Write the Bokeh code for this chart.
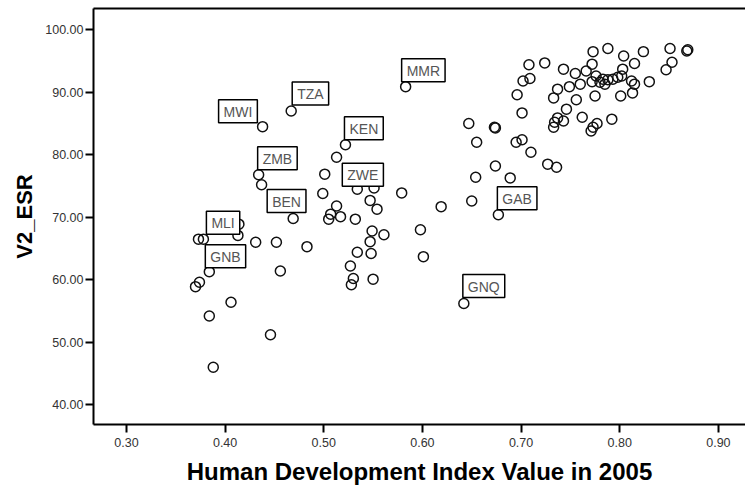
from bokeh.plotting import figure
from bokeh.models import Range1d, FixedTicker, NumeralTickFormatter, LinearAxis, ColumnDataSource
from bokeh.embed import file_html
from bokeh.resources import INLINE
from bokeh.core.properties import value

# Human Development Index value in 2005 (x) and V2_ESR (y)
hdi = [0.373, 0.378, 0.414, 0.413, 0.431, 0.452, 0.483, 0.384, 0.374, 0.370,
       0.406, 0.384, 0.446, 0.456, 0.388, 0.438, 0.467, 0.434, 0.437, 0.469,
       0.583, 0.522, 0.513, 0.501, 0.534, 0.551, 0.499, 0.579, 0.547, 0.554,
       0.513, 0.507, 0.505, 0.517, 0.532, 0.619, 0.598, 0.601, 0.549, 0.561,
       0.547, 0.534, 0.548, 0.527, 0.530, 0.528, 0.550, 0.642,
       0.773, 0.788, 0.804, 0.824, 0.851, 0.868, 0.869, 0.708, 0.724, 0.743,
       0.755, 0.766, 0.772, 0.815, 0.803, 0.853, 0.847, 0.702, 0.709, 0.737,
       0.749, 0.760, 0.776, 0.783, 0.788, 0.793, 0.798, 0.802, 0.772, 0.780,
       0.785, 0.812, 0.815, 0.830, 0.696, 0.733, 0.756, 0.775, 0.801, 0.813,
       0.701, 0.746, 0.737, 0.734, 0.733, 0.743, 0.762, 0.777, 0.773, 0.771,
       0.792, 0.673, 0.674, 0.647, 0.655, 0.695, 0.701, 0.710, 0.727, 0.736,
       0.674, 0.654, 0.689, 0.650, 0.677]
esr = [66.5, 66.5, 68.9, 67.1, 66.0, 66.0, 65.3, 61.3, 59.6, 58.9,
       56.4, 54.2, 51.2, 61.4, 46.0, 84.5, 87.0, 76.8, 75.2, 69.8,
       90.9, 81.6, 79.6, 76.9, 74.5, 74.7, 73.8, 73.9, 72.7, 71.3,
       71.8, 70.5, 69.7, 70.1, 69.7, 71.7, 68.0, 63.7, 67.8, 67.2,
       66.1, 64.4, 64.2, 62.2, 60.2, 59.2, 60.1, 56.2,
       96.5, 97.0, 95.8, 96.5, 97.0, 96.6, 96.8, 94.4, 94.7, 93.7,
       93.0, 93.4, 94.5, 94.6, 93.7, 94.8, 93.6, 91.8, 92.2, 90.5,
       90.9, 91.3, 92.6, 92.1, 92.0, 92.1, 92.4, 92.6, 91.7, 91.6,
       91.3, 91.8, 91.3, 91.7, 89.6, 89.1, 88.8, 89.4, 89.4, 89.9,
       86.7, 87.3, 85.9, 85.2, 84.4, 85.4, 86.0, 85.0, 84.4, 83.8,
       85.7, 84.4, 84.3, 85.0, 82.0, 82.0, 82.4, 80.4, 78.5, 78.0,
       78.2, 76.4, 76.3, 72.6, 70.4]
codes = ["", "MLI", "", "", "", "", "", "GNB", "", "",
         "", "", "", "", "", "MWI", "TZA", "ZMB", "", "BEN",
         "MMR", "KEN", "", "", "ZWE", "", "", "", "", "",
         "", "", "", "", "", "", "", "", "", "",
         "", "", "", "", "", "", "", "GNQ",
         "", "", "", "", "", "", "", "", "", "",
         "", "", "", "", "", "", "", "", "", "",
         "", "", "", "", "", "", "", "", "", "",
         "", "", "", "", "", "", "", "", "", "",
         "", "", "", "", "", "", "", "", "", "",
         "", "", "", "", "", "", "", "", "", "",
         "", "", "", "", "GAB"]

x_ticks = [0.30, 0.40, 0.50, 0.60, 0.70, 0.80, 0.90]
y_ticks = [40, 50, 60, 70, 80, 90, 100]

# label box placement relative to its point (screen pixels, y down) - styling only
label_shift = {"MWI": (-44, -4), "TZA": (1, -6), "MMR": (-4, -5), "KEN": (-1, -5),
               "ZMB": (-1, -5), "ZWE": (-15, -3), "BEN": (-26, -6), "MLI": (3, -5),
               "GNB": (-4, -4), "GNQ": (-1, -6), "GAB": (-1, -5)}

src = ColumnDataSource(dict(x=hdi, y=esr))
lx, ly, lt, dx, dy = [], [], [], [], []
for xv, yv, c in zip(hdi, esr, codes):
    if c:
        lx.append(xv); ly.append(yv); lt.append(c)
        dx.append(label_shift[c][0]); dy.append(label_shift[c][1])
lsrc = ColumnDataSource(dict(x=lx, y=ly, t=lt, dx=dx, dy=dy))

p = figure(width=745, height=489, output_backend="svg", toolbar_location=None,
           x_range=Range1d(0.2666, 0.9275), y_range=Range1d(36.85, 103.4),
           min_border_left=93, min_border_right=0, min_border_top=8, min_border_bottom=65)
p.outline_line_color = None
p.grid.visible = False
p.background_fill_color = "white"
p.border_fill_color = "white"

top_axis = LinearAxis(ticker=FixedTicker(ticks=[]), axis_line_color="black", axis_line_width=2,
                      major_tick_line_color=None, minor_tick_line_color=None,
                      major_label_text_font_size="0px", major_tick_out=0, major_tick_in=0,
                      major_label_standoff=0)
p.add_layout(top_axis, "above")

p.scatter("x", "y", source=src, marker="circle", size=10, fill_color=None,
          line_color="#111111", line_width=1.5)

p.text("x", "y", text="t", source=lsrc, x_offset="dx", y_offset="dy",
       anchor="bottom_left", text_font=value("Liberation Sans"), text_font_size="14px",
       text_color="#555555", background_fill_color="white", border_line_color="black",
       border_line_width=1.5, padding=dict(left=5, right=5, top=4, bottom=3))

xax = p.below[0]
yax = p.left[0]
xax.ticker = FixedTicker(ticks=x_ticks)
yax.ticker = FixedTicker(ticks=y_ticks)
xax.formatter = NumeralTickFormatter(format="0.00")
yax.formatter = NumeralTickFormatter(format="0.00")
xax.axis_label = "Human Development Index Value in 2005"
yax.axis_label = "V2_ESR"
for ax in (xax, yax):
    ax.axis_label_text_font = "Liberation Sans"
    ax.axis_label_text_font_style = "bold"
    ax.axis_label_text_color = "black"
    ax.major_label_text_font = "Liberation Sans"
    ax.major_label_text_font_size = "12.5px"
    ax.major_label_text_color = "#333333"
    ax.axis_line_color = "black"
    ax.axis_line_width = 2
    ax.major_tick_line_color = "black"
    ax.major_tick_line_width = 2
    ax.major_tick_out = 8
    ax.major_tick_in = 0
    ax.minor_tick_line_color = None
xax.axis_label_text_font_size = "24px"
yax.axis_label_text_font_size = "22px"
xax.major_label_standoff = 5
yax.major_label_standoff = 2
xax.axis_label_standoff = 8
yax.axis_label_standoff = 5

open("out.html", "w").write(file_html(p, INLINE))
